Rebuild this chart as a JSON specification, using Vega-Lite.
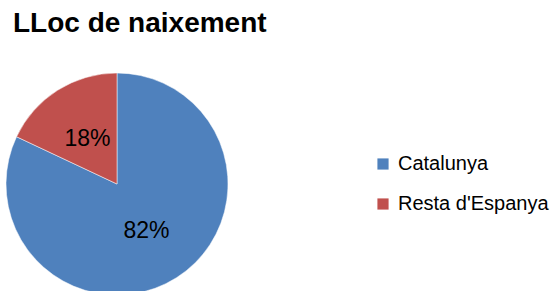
{
  "$schema": "https://vega.github.io/schema/vega-lite/v6.json",
  "width": 234,
  "height": 234,
  "autosize": "none",
  "padding": {"left": 0, "top": 67, "right": 322, "bottom": 0},
  "background": "white",
  "title": {
    "text": "LLoc de naixement",
    "anchor": "start",
    "font": "Liberation Sans",
    "fontSize": 28,
    "fontWeight": "bold",
    "color": "#000000",
    "dx": 13,
    "offset": 7,
    "baseline": "alphabetic"
  },
  "data": {
    "values": [
      {"lloc": "Catalunya", "pct": 0.82, "ord": 1},
      {"lloc": "Resta d'Espanya", "pct": 0.18, "ord": 2}
    ]
  },
  "encoding": {
    "theta": {"field": "pct", "type": "quantitative", "stack": true},
    "order": {"field": "ord", "type": "quantitative"},
    "color": {
      "field": "lloc",
      "type": "nominal",
      "scale": {"domain": ["Catalunya", "Resta d'Espanya"], "range": ["#4F81BD", "#C0504D"]},
      "legend": {
        "title": null,
        "orient": "none",
        "legendX": 373,
        "legendY": 87,
        "symbolType": "square",
        "symbolSize": 125,
        "symbolStrokeWidth": 0,
        "labelFont": "Liberation Sans",
        "labelFontSize": 20,
        "labelColor": "#000000",
        "rowPadding": 20,
        "labelOffset": 5
      }
    }
  },
  "layer": [
    {"mark": {"type": "arc", "outerRadius": 111, "stroke": "#ffffff", "strokeWidth": 0.5}},
    {
      "mark": {"type": "text", "radius": 55, "font": "Liberation Sans", "fontSize": 23, "color": "#000000", "align": "center", "baseline": "middle", "dy": 1},
      "encoding": {
        "text": {"field": "pct", "type": "quantitative", "format": ".0%"},
        "color": {"value": "#000000"}
      }
    }
  ],
  "config": {"view": {"stroke": null}}
}
